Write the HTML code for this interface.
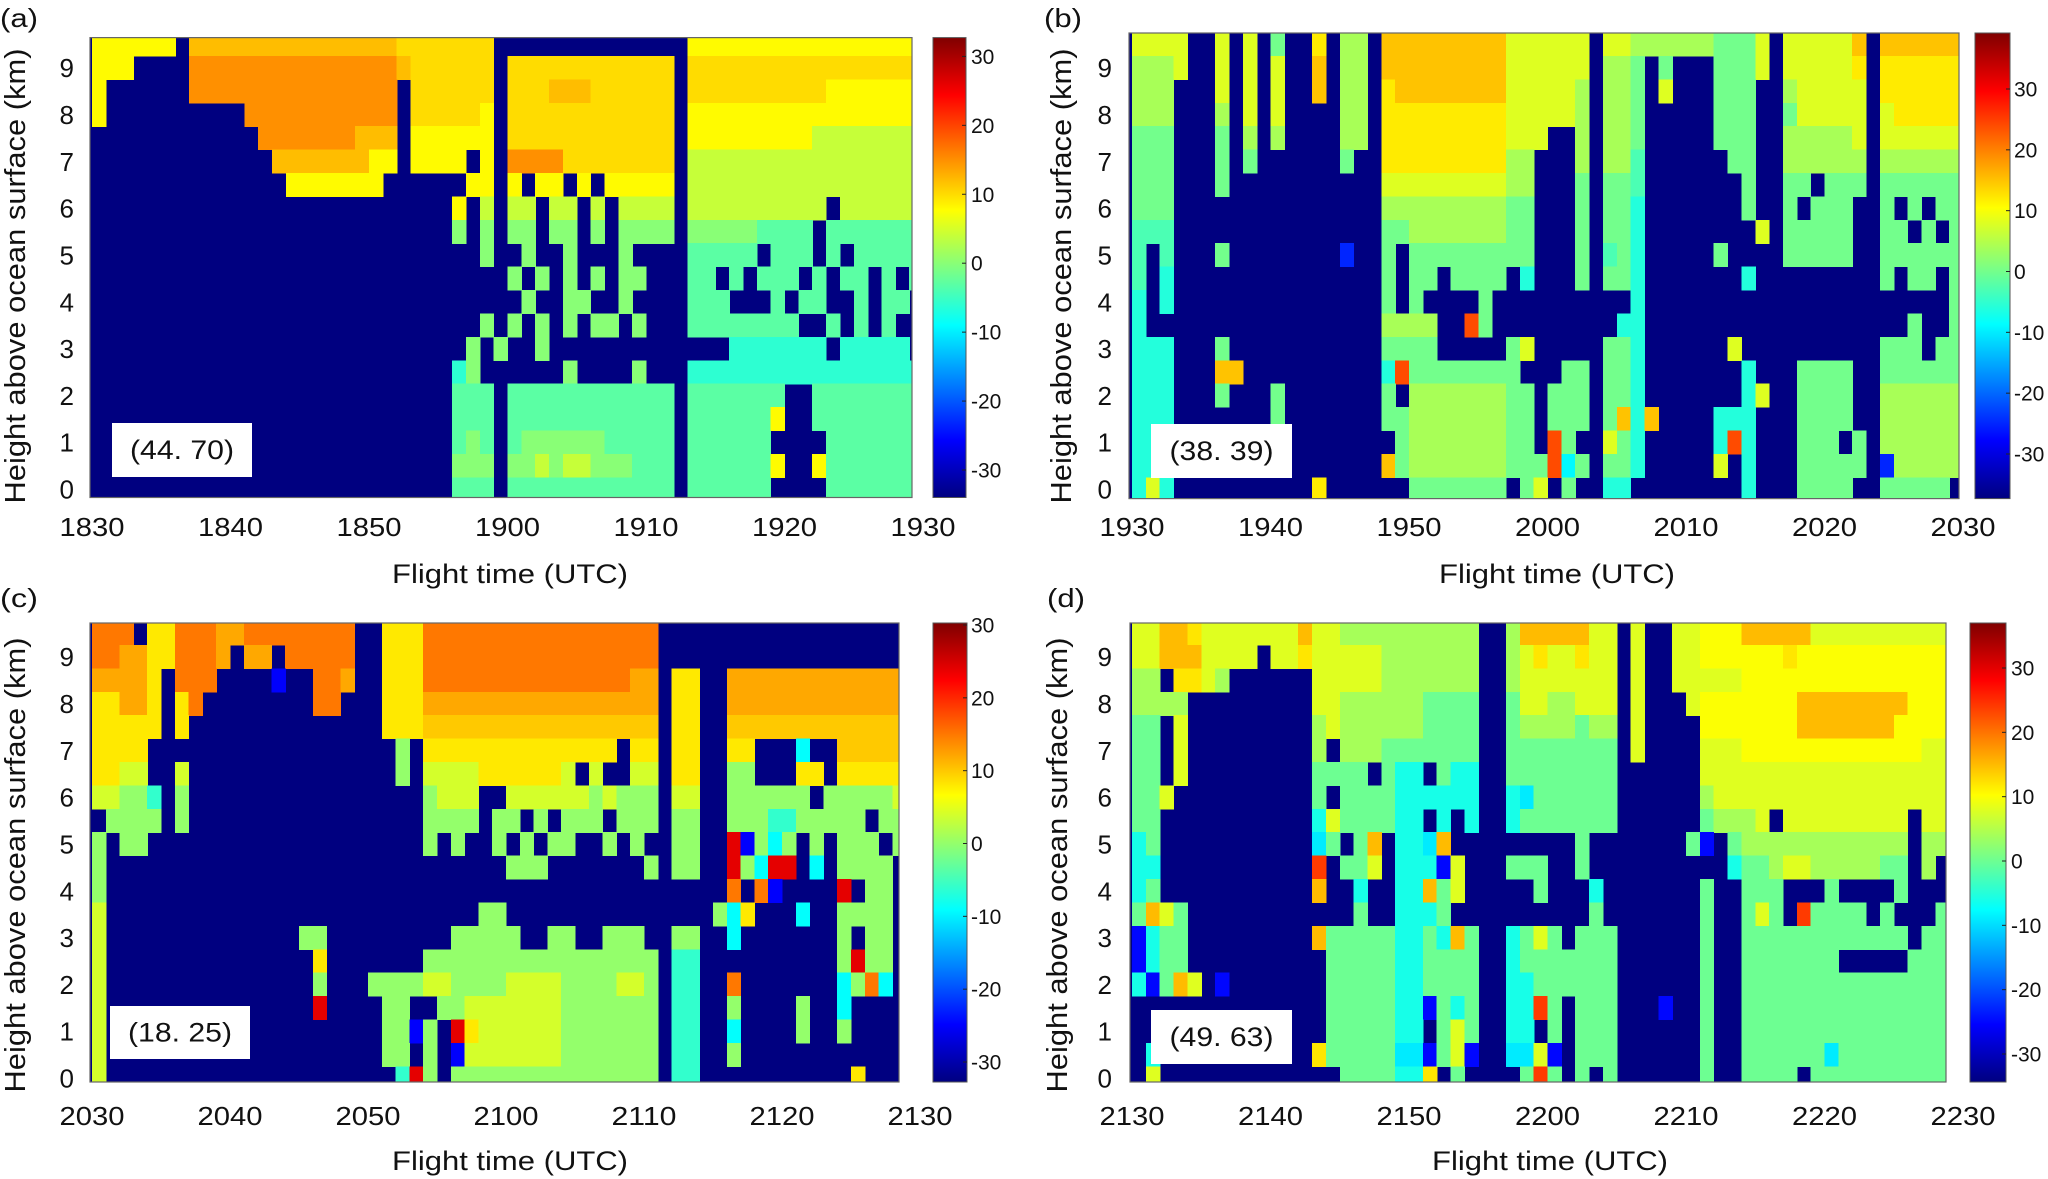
<!DOCTYPE html>
<html><head><meta charset="utf-8"><style>
html,body{margin:0;padding:0;background:#fff;}
svg{display:block;font-family:"Liberation Sans",Arial,sans-serif;}
</style></head>
<body>
<svg id="fig" xmlns="http://www.w3.org/2000/svg" width="2048" height="1179" viewBox="0 0 2048 1179">
<rect x="0" y="0" width="2048" height="1179" fill="#fff"/>
</svg>
<script>
// value codes used in grids
const symbolCodes = ['.','B','c','a','b','g','l','y','Y','o','O','r','R'];
const symbolValues = [NaN,-25,-9,-6,-3,0,4,8,10,12,15,24,31];
// row centre heights (km)
const rowHeights = [9.5,9,8.5,8,7.5,7,6.5,6,5.5,5,4.5,4,3.5,3,2.5,2,1.5,1,0.5,0];
const yTickValues = [0,1,2,3,4,5,6,7,8,9];
const xTickMinutes = [0,10,20,30,40,50,60];
const xTickLabelsA = ['1830','1840','1850','1900','1910','1920','1930'];
const xTickLabelsB = ['1930','1940','1950','2000','2010','2020','2030'];
const xTickLabelsC = ['2030','2040','2050','2100','2110','2120','2130'];
const xTickLabelsD = ['2130','2140','2150','2200','2210','2220','2230'];
const cbTickValues = [30,20,10,0,-10,-20,-30];
const annotationLabels = ['(44. 70)','(38. 39)','(18. 25)','(49. 63)'];

const gridA = [
"yyyyyy.ooo"+"oooooooooo"+"ooYYYYYYY."+".........."+"...yyyyyyy"+"yyyyyyyyyy",
"yyy....OOO"+"OOOOOOOOOO"+"OOoYYYYYY."+"YYYYYYYYYY"+"YY.YYYYYYY"+"YYYYYYYYYY",
"y......OOO"+"OOOOOOOOOO"+"OO.YYYYYY."+"YYYoooYYYY"+"YY.YYYYYYY"+"YYYyyyyyyy",
"y........."+".OOOOOOOOO"+"OO.YYYYYy."+"YYYYYYYYYY"+"YY.yyyyyyy"+"yyyyyyyyyy",
".........."+"..OOOOOOOo"+"oo.yyyyyy."+"YYYYYYYYYY"+"YY.yyyyyyy"+"yyllllllll",
".........."+"...ooooooo"+"yy.yyyy.y."+"OOOOYYYYYY"+"YY.lllllll"+"llllllllll",
".........."+"....yyyyyy"+"y......yy."+"y.yy.y.yyy"+"yy.lllllll"+"llllllllll",
".........."+".........."+"......y.l."+"ll.ll.l.ll"+"ll.lllllll"+"lll.llllll",
".........."+".........."+"......g.g."+"gg.gg.g.gg"+"gg.gggggbb"+"bb.bbbbbbb",
".........."+".........."+"........g."+".g..g...g."+"...bbbbb.b"+"bb.b.bbbbb",
".........."+".........."+".........."+"g.g.g.g.gg"+"...bb.b.bb"+"b.b.bb.b.b",
".........."+".........."+".........."+".g..gg..g."+"...bbb...b"+".bb..b.bb.",
".........."+".........."+"........g."+"g.g.g.gg.g"+"...bbbbbbb"+"b..b.b.b..",
".........."+".........."+".......g.g"+"..g......."+"......aaaa"+"aaa.aaaaa.",
".........."+".........."+"......ag.."+"....g....g"+"...aaaaaaa"+"aaaaaaaaaa",
".........."+".........."+"......bbb."+"bbbbbbbbbb"+"bb.bbbbbbb"+"..bbbbbbbb",
".........."+".........."+"......bbb."+"bbbbbbbbbb"+"bb.bbbbbby"+"..bbbbbbbb",
".........."+".........."+"......bgb."+"bggggggbbb"+"bb.bbbbbb."+"...bbbbbbb",
".........."+".........."+"......ggg."+"gglgllgggb"+"bb.bbbbbby"+"..ybbbbbbb",
".........."+".........."+"......bbb."+"bbbbbbbbbb"+"bb.bbbbbb."+"...bbbbbbb"
];
const gridB = [
"yyyy..y.y."+"g..o.ll.OO"+"OOOOOOOyyy"+"yyy.yyllll"+"llgggy.yyy"+"yyO.OOOOOO",
"llly..y.y."+"y..O.ll.OO"+"OOOOOOOyyy"+"yyy.llg.g."+"..gggy.yyy"+"yyo.oooooo",
"lll...y.y."+"y..O.ll.oO"+"OOOOOOOyyy"+"yyl.llg.y."+"..ggg..lyy"+"yyy.oooooo",
"lll...l.y."+"y....ll.oo"+"oooooooyyy"+"yyl.llg..."+"..ggg..gyy"+"yyy.yooooo",
"ggg...g.l."+"l....ll.oo"+"oooooooyyy"+"..l.llg..."+"..ggg..lll"+"lly.yyyyyy",
"ggg...g.g."+".....g..oo"+"oooooooll."+"..l.llb..."+"...gg..lll"+"lll.llllll",
"ggg...g..."+"........yy"+"yyyyyyyll."+"..g.ggb..."+"....g..gg."+"ggg.gggggg",
"ggg......."+"........ll"+"lllllllgg."+"..g.gga..."+"....g..g.g"+"gg..g.g.gg",
"bbb......."+"........gg"+"lllllllgg."+"..g.gga..."+".....y.ggg"+"gg..gg.g.g",
"b.b...g..."+".....B..g."+"ggggggggg."+"..g.bga..."+"..g....ggg"+"gg..gggggg",
"b.a......."+"........g."+"gg.gggg.a."+"..g.gga..."+"....a....."+"....g.gg.g",
"a.a......."+"........g."+"g....g...."+"......a..."+".........."+".........g",
"a........."+"........ll"+"ll..rg...."+".....aa..."+".........."+"......g..g",
"aaa...g..."+"........gg"+"gg.....gy."+"....gga..."+"...y......"+"....ggg.gg",
"aaa...OO.."+"........ar"+"gggggggg.."+".gg.gga..."+"....a...gg"+"gg..gggggg",
"aaa...g..."+"g.......g."+"lllllllgg."+"ggg.gga..."+"....ay..gg"+"gg..llllll",
"aaa......."+"g.......gg"+"lllllllgg."+"ggg.gOaO.."+"..aaa...gg"+"gg..llllll",
"aaa......."+".........g"+"lllllllgg."+"rg..yga..."+"..ara...gg"+"g.g.llllll",
"aaa......."+"........Og"+"lllllllggg"+"rcg.gga..."+"..y.a...gg"+"ggg.Blllll",
"aya......."+"...o......"+"ggggggg.gy"+".g..aa...."+"....a...gg"+"gg..ggggg."
];
const gridC = [
"OOO.yyOOOo"+"oOOOOOOOO."+".yyyOOOOOO"+"OOOOOOOOOO"+"O........."+"..........",
"OOooyyOOOo"+".oo.OOOOO."+".yyyOOOOOO"+"OOOOOOOOOO"+"O........."+"..........",
"ooooy.OOO."+"...B..OOo."+".yyyOOOOOO"+"OOOOOOOOOo"+"o.yy..oooo"+"ooooooooo.",
"yyooy.yO.."+"......OO.."+".yyyoooooo"+"oooooooooo"+"o.yy..oooo"+"ooooooooo.",
"yyyyy.y..."+".........."+".yyyYYYYYY"+"YYYYYYYYYY"+"Y.yy..YYYY"+"YYYYYYYYY.",
"yyyy......"+".........."+"..g.yyyyyy"+"yyyyyyyy.y"+"y.yy..yy.."+".c..YYYYY.",
"yyll..l..."+".........."+"..g.llllyy"+"yyyyl.l..l"+"l.yy..gg.."+".yy.yyyyy.",
"llgga.g..."+".........."+"....glll.."+"llllllglgg"+"g.ll..gggg"+"gg.gggggl.",
".gggg.g..."+".........."+"....gggg.g"+"g.g.ggg.gg"+"g.gg..ggga"+"aggggg.gg.",
"g.gg......"+".........."+"....g.g..g"+".g.gg..g.g"+"..gg..rBgc"+"g.g.ggg.g.",
"g........."+".........."+".........."+"ggg......."+"g.gg..rgcr"+"r.c.gggg..",
"g........."+".........."+".........."+".........."+"......O.OB"+"....r.gg..",
"l........."+".........."+"........gg"+".........."+".....gcy.."+".c..gggg..",
"l........."+".....gg..."+"......gggg"+"g..gg..ggg"+"..gg..c..."+"....g.gg..",
"l........."+"......y..."+"....gggggg"+"gggggggggg"+"g.aa......"+"....grgg..",
"l........."+"......g..."+"ggggllgggg"+"llllggggll"+"g.aa..O..."+"....cgOc..",
"l........."+"......r..."+".gg..gglll"+"llllgggggg"+"g.aa..g..."+".g..c.....",
"l........."+".........."+".ggBg.ryll"+"llllgggggg"+"g.aa..c..."+".g..g.....",
"l........."+".........."+".gg.g.Blll"+"llllgggggg"+"g.aa..g..."+"..........",
"l........."+".........."+"..arg.gggg"+"gggggggggg"+"g.aa......"+".....y...."
];
const gridD = [
"yyOOoyyyyy"+"yyOyylllll"+"lllll..lOO"+"OOOyy.y..y"+"yYYYOOOOOy"+"yyyyyyyyy.",
"yyOOOyyyy."+"yyoyyyyyll"+"lllll..lyo"+"yyoyy.y..y"+"yYYYYYYoYY"+"YYYYYYYYY.",
"ll.ooyl..."+"...yyyyyll"+"lllll..lyy"+"yyyyy.y..y"+"yyyyYYYYYY"+"YYYYYYYYY.",
"llll......"+"...yylllll"+"lgggg..gyy"+"llyyy.y..."+"yYYYYYYYOO"+"OOOOOOYYY.",
"gg.y......"+"...lylllll"+"lgggg..gll"+"llgll.y..."+".YYYYYYYOO"+"OOOOOYYYY.",
"gg.y......"+"...l.lllgg"+"ggggg..ggg"+"ggggg.y..."+".yyyYYYYYY"+"YYYYYYYyy.",
"gg.y......"+"...gggg.ga"+"a.gaa..ggg"+"ggggg....."+".yyyyyyyyy"+"yyyyyyyyy.",
"ggy......."+"...g.gggga"+"aaaaa..acg"+"ggggg....."+".lyyyyyyyy"+"yyyyyyyyy.",
"gg........"+"...aygggga"+"a.a.a..agg"+"ggggg....."+".gllly.yyy"+"yyyyyy.yy.",
"ag........"+"...cg.gO.a"+"acO......."+"..g......."+"gB.gllllll"+"llllll.ll.",
"aa........"+"...r.ggy.a"+"aaBy...ggg"+"..g......."+"...agglyyl"+"llllgg.l..",
"ag........"+"...O..a..a"+"aOgy.....g"+"...a......"+".g..ggg..."+"g....g....",
"gOyg......"+"......g..a"+"aag......."+"...g......"+".g..gyg.rg"+"ggg.g...g.",
"Bagg......"+"...Oggggga"+"agaOg..agy"+"g.ggg....."+".g..gggggg"+"gggggg.gg.",
"Bagg......"+"....ggggga"+"agggg..agg"+"ggggg....."+".g..gggggg"+"g.....ggg.",
"aBgOy.B..."+"....ggggga"+"agggg..aag"+"ggggg....."+".g..gggggg"+"ggggggggg.",
".........."+"....ggggga"+"aBgag..aar"+"g.ggg...B."+".g..gggggg"+"ggggggggg.",
".........."+"....ggggga"+"a.gyg..aa."+"g.ggg....."+".g..gggggg"+"ggggggggg.",
".a........"+"...ogggggc"+"cBgyB..ccy"+"B.ggg....."+".g..gggggg"+"cgggggggg.",
".y........"+".....gggga"+"ao.g....gr"+"g.g.g....."+".g..gggg.g"+"ggggggggg."
];

const NS = 'http://www.w3.org/2000/svg';
const svg = document.getElementById('fig');
function mk(tag, attrs, parent){ const e=document.createElementNS(NS,tag); for(const k in attrs) e.setAttribute(k, attrs[k]); (parent||svg).appendChild(e); return e; }
function clamp(v){ return Math.max(0, Math.min(1, v)); }
function jet(t){ t=clamp(t);
  const r=clamp(1.5-Math.abs(4*t-3)), g=clamp(1.5-Math.abs(4*t-2)), b=clamp(1.5-Math.abs(4*t-1));
  return 'rgb('+Math.round(r*255)+','+Math.round(g*255)+','+Math.round(b*255)+')'; }

const layouts = [
 {key:'a', grid:gridA, xLabels:xTickLabelsA, ann:annotationLabels[0], plot:[90,37.6,912,497.5], cb:[933,37.6,966,497.5], cbT:[56.4,470], y0:489, y9:67.7, xl:[92,923], xlBase:536, ylX:74, cbLX:971, xTitle:[510,583], yTitle:[25,276], annBox:[112,423,252,477], pl:[0,27]},
 {key:'b', grid:gridB, xLabels:xTickLabelsB, ann:annotationLabels[1], plot:[1129,33,1959,498.6], cb:[1975,33,2010,498.6], cbT:[89,454], y0:489, y9:67.7, xl:[1132,1963], xlBase:536, ylX:1112, cbLX:2014, xTitle:[1557,583], yTitle:[1071,276], annBox:[1151,424,1292,478], pl:[1044,27]},
 {key:'c', grid:gridC, xLabels:xTickLabelsC, ann:annotationLabels[2], plot:[90,623,899,1082], cb:[933,623,967,1082], cbT:[625,1062], y0:1078, y9:656.7, xl:[92,920], xlBase:1125, ylX:74, cbLX:971, xTitle:[510,1170], yTitle:[25,865], annBox:[110,1006,250,1059], pl:[0,607]},
 {key:'d', grid:gridD, xLabels:xTickLabelsD, ann:annotationLabels[3], plot:[1130,623,1946,1082], cb:[1970,623,2006,1082], cbT:[668,1054], y0:1078, y9:656.7, xl:[1132,1963], xlBase:1125, ylX:1112, cbLX:2011, xTitle:[1550,1170], yTitle:[1067,865], annBox:[1151,1010,1292,1064], pl:[1047,607]}
];

const defs = mk('defs', {});
layouts.forEach(function(L){
  const P=L.plot, C=L.cb;
  const pxPerUnit=(L.cbT[1]-L.cbT[0])/60;
  const cmax=30+(L.cbT[0]-C[1])/pxPerUnit;
  const cmin=-30-(C[3]-L.cbT[1])/pxPerUnit;
  const cbY=function(v){ return L.cbT[0]+(30-v)*pxPerUnit; };
  const xs=function(m){ return L.xl[0]+m/60*(L.xl[1]-L.xl[0]); };
  const ys=function(h){ return L.y0-h*(L.y0-L.y9)/9; };
  const color=function(v){ return jet((v-cmin)/(cmax-cmin)); };

  const g = mk('g', {});
  
  

  const cp = mk('clipPath', {id:'clip-'+L.key}, defs);
  mk('rect', {x:P[0], y:P[1], width:P[2]-P[0], height:P[3]-P[1]}, cp);

  const bg = mk('rect', {x:P[0], y:P[1], width:P[2]-P[0], height:P[3]-P[1], fill:color(cmin)}, g);
  
  

  const cells = mk('g', {'clip-path':'url(#clip-'+L.key+')', 'shape-rendering':'crispEdges'}, g);
  
  
  L.grid.forEach(function(row, r){
    for (let c=0;c<row.length;c++){
      const v = symbolValues[symbolCodes.indexOf(row[c])];
      if (isNaN(v)) continue;
      const x1=xs(c), x2=xs(c+1), y1=ys(rowHeights[r]+0.25), y2=ys(rowHeights[r]-0.25);
      const cell = mk('rect', {x:x1.toFixed(1), y:y1.toFixed(1), width:(x2-x1+0.6).toFixed(1), height:(y2-y1+0.6).toFixed(1), fill:color(v)}, cells);
      
      
    }
  });
  const fr = mk('rect', {x:P[0], y:P[1], width:P[2]-P[0], height:P[3]-P[1], fill:'none', stroke:'#666', 'stroke-width':1.2}, g);
  
  

  yTickValues.forEach(function(h){
    const t = mk('text', {x:L.ylX, y:(ys(h)+9.5).toFixed(1), 'font-size':26, 'text-anchor':'end', fill:'#111'}, g);
    t.textContent = String(h);
    
    
  });
  xTickMinutes.forEach(function(m, i){
    const t = mk('text', {x:xs(m).toFixed(1), y:L.xlBase, 'font-size':26, 'text-anchor':'middle', textLength:65, lengthAdjust:'spacingAndGlyphs', fill:'#111'}, g);
    t.textContent = L.xLabels[i];
    
    
  });

  const gid='grad-'+L.key;
  const lg = mk('linearGradient', {id:gid, x1:0, y1:0, x2:0, y2:1}, defs);
  for (let i=0;i<=32;i++){ mk('stop', {offset:(i/32).toFixed(4), 'stop-color':jet(1-i/32)}, lg); }
  const cbr = mk('rect', {x:C[0], y:C[1], width:C[2]-C[0], height:C[3]-C[1], fill:'url(#'+gid+')', stroke:'#555', 'stroke-width':1}, g);
  
  
  cbTickValues.forEach(function(v){
    const y=cbY(v);
    mk('line', {x1:C[2]-4, x2:C[2], y1:y, y2:y, stroke:'#222', 'stroke-width':1}, g);
    const t = mk('text', {x:L.cbLX, y:(y+7.5).toFixed(1), 'font-size':21, fill:'#111'}, g);
    t.textContent = String(v);
    
    
  });

  const xt = mk('text', {x:L.xTitle[0], y:L.xTitle[1], 'font-size':27, 'text-anchor':'middle', textLength:236, lengthAdjust:'spacingAndGlyphs', fill:'#111'}, g);
  xt.textContent = 'Flight time (UTC)';
  
  
  const yt = mk('text', {x:0, y:0, 'font-size':29, 'text-anchor':'middle', textLength:455, lengthAdjust:'spacingAndGlyphs', fill:'#111', transform:'translate('+L.yTitle[0]+','+L.yTitle[1]+') rotate(-90)'}, g);
  yt.textContent = 'Height above ocean surface (km)';
  
  

  const B=L.annBox;
  const ab = mk('rect', {x:B[0], y:B[1], width:B[2]-B[0], height:B[3]-B[1], fill:'#fff'}, g);
  
  
  const at = mk('text', {x:(B[0]+B[2])/2, y:(B[1]+B[3])/2+9, 'font-size':27, 'text-anchor':'middle', textLength:104, lengthAdjust:'spacingAndGlyphs', fill:'#111'}, g);
  at.textContent = L.ann;
  
  

  const pl = mk('text', {x:L.pl[0], y:L.pl[1], 'font-size':26, textLength:38, lengthAdjust:'spacingAndGlyphs', fill:'#111'}, g);
  pl.textContent = '('+L.key+')';
  
  
});
</script>
</body></html>
